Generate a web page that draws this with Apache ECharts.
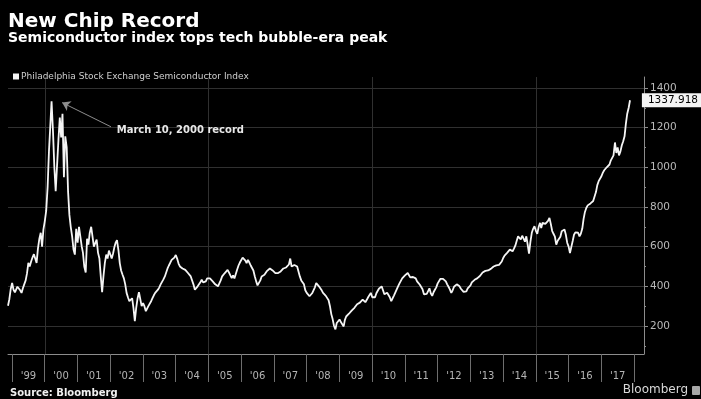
<!DOCTYPE html>
<html>
<head>
<meta charset="utf-8">
<script src="https://cdn.jsdelivr.net/npm/echarts@6/dist/echarts.min.js"></script>
<style>
  html, body { margin: 0; padding: 0; background: #000; }
  #chart { width: 701px; height: 399px; }
</style>
</head>
<body>
<div id="chart"></div>
<script>
// Philadelphia Stock Exchange Semiconductor Index, sampled on the 1st and 16th of each month.
// 1998 starts at mid-November (half-month slot 21).
const sox1998 = [302, 335, 385];
const sox1999 = [417, 384, 370, 380, 398, 404, 380, 367, 390, 410, 430, 465, 518, 500, 525, 545, 562, 565, 518, 590, 640, 670, 600, 686];
const sox2000 = [730, 780, 900, 1080, 1200, 1332, 1180, 1000, 880, 880, 1140, 1250, 1150, 1270, 950, 1156, 1100, 880, 760, 700, 650, 585, 560, 690];
const sox2001 = [620, 700, 690, 600, 570, 500, 470, 640, 610, 669, 700, 650, 600, 590, 636, 570, 540, 450, 370, 450, 520, 560, 540, 580];
const sox2002 = [583, 540, 567, 600, 620, 633, 583, 517, 480, 460, 440, 410, 367, 345, 325, 330, 340, 290, 225, 290, 340, 370, 370, 300];
const sox2003 = [315, 300, 275, 285, 300, 290, 325, 340, 355, 367, 375, 383, 395, 410, 420, 435, 450, 470, 490, 505, 520, 533, 540, 545];
const sox2004 = [558, 540, 515, 500, 492, 490, 485, 483, 475, 467, 460, 450, 440, 410, 383, 390, 400, 395, 420, 433, 420, 415, 425, 440];
const sox2005 = [450, 440, 433, 425, 420, 410, 405, 400, 395, 430, 450, 460, 467, 475, 483, 470, 455, 442, 455, 440, 450, 485, 505, 520];
const sox2006 = [530, 545, 550, 530, 517, 533, 520, 505, 495, 480, 450, 425, 405, 410, 430, 450, 455, 458, 465, 478, 485, 490, 490, 480];
const sox2007 = [470, 467, 465, 467, 470, 475, 480, 490, 500, 495, 492, 510, 540, 500, 505, 508, 505, 500, 495, 450, 430, 420, 410, 380];
const sox2008 = [367, 360, 350, 355, 365, 370, 395, 417, 410, 400, 398, 380, 367, 360, 352, 345, 330, 300, 260, 235, 200, 183, 215, 225];
const sox2009 = [233, 220, 210, 198, 230, 248, 258, 262, 270, 278, 280, 292, 300, 310, 306, 318, 326, 333, 328, 320, 332, 345, 355, 367];
const sox2010 = [345, 335, 345, 365, 375, 388, 395, 400, 380, 360, 362, 368, 360, 345, 325, 335, 355, 370, 385, 400, 415, 425, 440, 450];
const sox2011 = [455, 460, 467, 460, 445, 442, 447, 450, 440, 425, 415, 408, 400, 385, 360, 350, 362, 367, 390, 365, 352, 370, 383, 395];
const sox2012 = [415, 425, 438, 442, 438, 433, 425, 410, 398, 385, 367, 380, 398, 405, 410, 408, 400, 388, 380, 372, 367, 375, 390, 395];
const sox2013 = [405, 420, 418, 433, 428, 440, 436, 452, 458, 470, 466, 478, 484, 480, 490, 488, 496, 500, 498, 506, 510, 508, 518, 525];
const sox2014 = [543, 555, 565, 570, 580, 585, 578, 577, 590, 605, 630, 652, 645, 636, 655, 650, 625, 652, 610, 565, 625, 670, 690, 703];
const sox2015 = [680, 665, 700, 720, 694, 720, 728, 715, 711, 730, 745, 715, 680, 665, 650, 610, 630, 625, 650, 678, 685, 686, 660, 620];
const sox2016 = [600, 568, 600, 630, 660, 672, 678, 670, 652, 665, 690, 740, 775, 795, 808, 815, 818, 822, 830, 837, 875, 910, 930, 940];
const sox2017 = [955, 972, 985, 995, 1000, 1010, 1014, 1035, 1030, 1060, 1125, 1072, 1100, 1060, 1080, 1110, 1131, 1156, 1220, 1270, 1300, 1337.918];

const yearBlocks = [
  [1998, sox1998], [1999, sox1999], [2000, sox2000], [2001, sox2001], [2002, sox2002],
  [2003, sox2003], [2004, sox2004], [2005, sox2005], [2006, sox2006], [2007, sox2007],
  [2008, sox2008], [2009, sox2009], [2010, sox2010], [2011, sox2011], [2012, sox2012],
  [2013, sox2013], [2014, sox2014], [2015, sox2015], [2016, sox2016], [2017, sox2017]
];
const firstSlot1998 = 21;

const yearLabels = ["'99", "'00", "'01", "'02", "'03", "'04", "'05", "'06", "'07", "'08",
  "'09", "'10", "'11", "'12", "'13", "'14", "'15", "'16", "'17"];
const yTicks = [200, 400, 600, 800, 1000, 1200, 1400];
const yMinorTicks = [100, 300, 500, 700, 900, 1100, 1300];
const xGridYears = [2000, 2005, 2010, 2015];

const seriesName = 'Philadelphia Stock Exchange Semiconductor Index';
const noteText = 'March 10, 2000 record';

const pad = n => String(n).padStart(2, '0');
const seriesData = [];
yearBlocks.forEach(([year, vals]) => {
  const start = year === 1998 ? firstSlot1998 : 0;
  vals.forEach((v, k) => {
    const slot = start + k;
    const month = Math.floor(slot / 2) + 1;
    const day = slot % 2 ? 16 : 1;
    seriesData.push([year + '-' + pad(month) + '-' + pad(day), v]);
  });
});
const lastValue = seriesData[seriesData.length - 1][1];

const ts = (y, m, d) => new Date(y, m - 1, d).getTime();
const FONT = 'DejaVu Sans';
const axisGray = '#8c8c8c';
const gridGray = '#303030';

const chart = echarts.init(document.getElementById('chart'), null, { renderer: 'canvas' });
chart.setOption({
  backgroundColor: '#000',
  animation: false,
  textStyle: { fontFamily: FONT },
  title: [
    { text: 'New Chip Record', left: 8, top: 12, padding: 0,
      textStyle: { color: '#fff', fontSize: 20, fontWeight: 'bold', fontFamily: FONT } },
    { text: 'Semiconductor index tops tech bubble-era peak', left: 8, top: 31, padding: 0,
      textStyle: { color: '#fff', fontSize: 14, fontWeight: 'bold', fontFamily: FONT } },
    { text: 'Source: Bloomberg', left: 10, top: 388, padding: 0,
      textStyle: { color: '#f0f0f0', fontSize: 10, fontWeight: 'bold', fontFamily: FONT } },
    { text: 'Bloomberg', right: 13, top: 384, padding: 0,
      textStyle: { color: '#d8d8d8', fontSize: 12, fontWeight: 'normal', fontFamily: FONT } }
  ],
  graphic: [
    { type: 'rect', right: 1, top: 386, shape: { width: 8, height: 9, r: 1 },
      style: { fill: '#a8a8a8' } }
  ],
  legend: {
    left: 13, top: 72, padding: 0,
    icon: 'rect', itemWidth: 6, itemHeight: 6,
    data: [seriesName],
    textStyle: { color: '#cfcfcf', fontSize: 9, fontFamily: FONT, padding: [0, 0, 0, -3] }
  },
  grid: [
    { left: 8, right: 57, top: 77, bottom: 45, containLabel: false },
    { left: 12, right: 67, top: 300, bottom: 45, containLabel: false }
  ],
  xAxis: [
    {
      type: 'time', gridIndex: 0, position: 'bottom',
      min: ts(1998, 11, 16), max: ts(2018, 4, 21),
      axisLine: { show: true, lineStyle: { color: axisGray, width: 1 } },
      axisTick: { show: false, customValues: xGridYears.map(y => ts(y, 1, 1)) },
      axisLabel: { show: false },
      splitLine: { show: true, lineStyle: { color: gridGray, width: 1 } }
    },
    {
      type: 'category', gridIndex: 1, position: 'bottom',
      data: yearLabels, boundaryGap: true,
      axisLine: { show: false },
      axisTick: { show: true, interval: 0, length: 28, alignWithLabel: false,
        lineStyle: { color: '#6e6e6e', width: 1 } },
      axisLabel: { show: true, interval: 0, margin: 17, color: '#b4b4b4', fontSize: 10, fontFamily: FONT },
      splitLine: { show: false }
    }
  ],
  yAxis: [
    {
      type: 'value', gridIndex: 0, position: 'right',
      min: 59, max: 1455,
      axisLine: { show: true, lineStyle: { color: axisGray, width: 1 } },
      axisTick: { show: true, length: 4, customValues: yTicks, lineStyle: { color: axisGray } },
      axisLabel: { show: true, customValues: yTicks, margin: 6, color: '#b8b8b8', fontSize: 10.5,
        fontFamily: FONT, formatter: v => String(v) },
      splitLine: { show: true, lineStyle: { color: gridGray, width: 1 } },
      axisPointer: {
        show: true, type: 'line', status: 'show', value: lastValue, triggerTooltip: false,
        lineStyle: { opacity: 0 },
        label: {
          show: true, margin: 3, backgroundColor: '#f4f4f4', color: '#000',
          fontSize: 10.5, fontFamily: FONT, padding: [2, 3, 1, 6], borderRadius: 0,
          formatter: p => Number(p.value).toFixed(3)
        }
      }
    },
    {
      type: 'value', gridIndex: 0, position: 'right',
      min: 59, max: 1455,
      axisLine: { show: false },
      axisTick: { show: true, length: 2, customValues: yMinorTicks, lineStyle: { color: axisGray } },
      axisLabel: { show: false },
      splitLine: { show: false }
    },
    {
      type: 'value', gridIndex: 1, min: 0, max: 1, show: false
    }
  ],
  series: [
    {
      name: seriesName,
      type: 'line',
      xAxisIndex: 0, yAxisIndex: 0,
      data: seriesData,
      showSymbol: false,
      color: '#f5f5f5',
      lineStyle: { color: '#f5f5f5', width: 1.8 },
      emphasis: { disabled: true },
      markLine: {
        silent: true,
        symbol: ['none', 'arrow'],
        symbolSize: 8,
        lineStyle: { color: '#8e8e8e', width: 1, type: 'solid' },
        label: { show: false },
        data: [[
          { coord: [ts(2002, 1, 8), 1204] },
          { coord: [ts(2000, 7, 12), 1326] }
        ]]
      },
      markPoint: {
        silent: true,
        symbol: 'circle', symbolSize: 0,
        label: {
          show: true, position: 'right', distance: 0,
          color: '#e8e8e8', fontSize: 10, fontWeight: 'bold', fontFamily: FONT,
          formatter: noteText
        },
        data: [{ coord: [ts(2002, 3, 13), 1188] }]
      }
    }
  ]
});
</script>
</body>
</html>
